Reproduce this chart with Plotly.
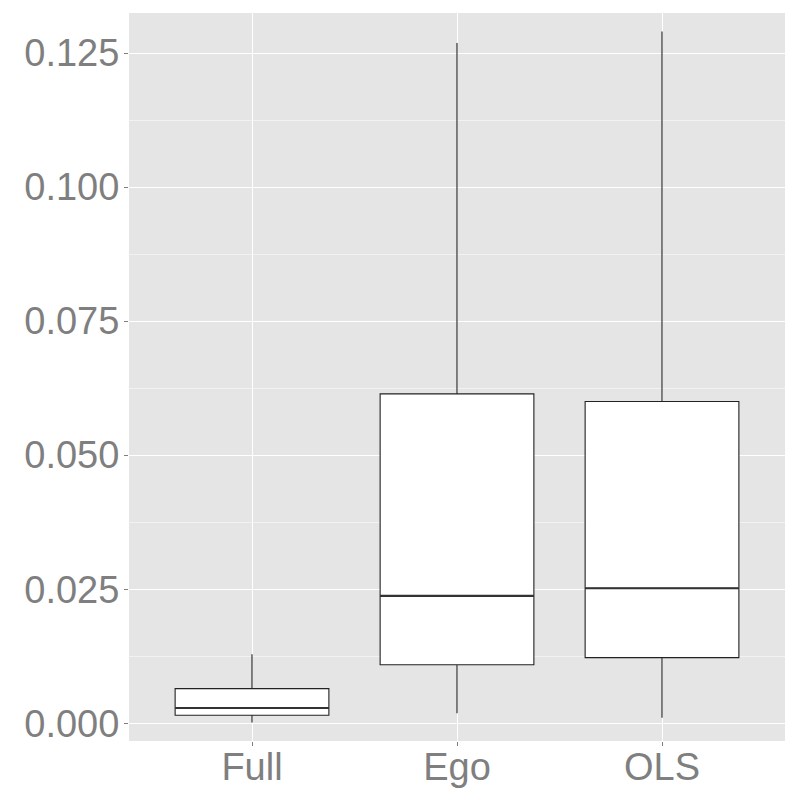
import plotly.graph_objects as go

categories = ["Full", "Ego", "OLS"]
lower_whisker = [0.00015, 0.00187, 0.00104]
q1 = [0.00149, 0.01093, 0.01224]
median = [0.00285, 0.02375, 0.02519]
q3 = [0.00646, 0.06144, 0.06000]
upper_whisker = [0.01287, 0.12687, 0.12903]

y_ticks = [0.0, 0.025, 0.05, 0.075, 0.1, 0.125]
box_width = 0.75
positions = list(range(len(categories)))

fig = go.Figure()
fig.add_trace(go.Box(
    x=positions, q1=q1, median=median, q3=q3,
    lowerfence=lower_whisker, upperfence=upper_whisker,
    fillcolor="white", line=dict(color="#222222", width=1.1),
    whiskerwidth=0, width=box_width, boxpoints=False,
    showlegend=False, hoverinfo="skip",
))
# thicker median lines (ggplot style)
for p, m in zip(positions, median):
    fig.add_trace(go.Scatter(
        x=[p - box_width / 2, p + box_width / 2], y=[m, m], mode="lines",
        line=dict(color="#333333", width=2.2), showlegend=False, hoverinfo="skip",
    ))

fig.update_layout(
    width=800, height=800,
    margin=dict(l=121, r=23, t=5, b=67, autoexpand=False),
    paper_bgcolor="white", plot_bgcolor="#E5E5E5",
    font=dict(family="Liberation Sans, Arial, sans-serif", size=38, color="#7F7F7F"),
    xaxis=dict(
        range=[-0.6, 2.6], tickmode="array", tickvals=positions, ticktext=categories,
        showgrid=True, gridcolor="white", gridwidth=1.4, zeroline=False,
        ticks="outside", ticklen=4, tickcolor="#7F7F7F", tickwidth=1,
        tickfont=dict(size=38, color="#7F7F7F"), showline=False,
        ticklabelstandoff=-12,
    ),
    yaxis=dict(
        range=[-0.0033, 0.13246], tickmode="array", tickvals=y_ticks,
        tickformat=".3f",
        showgrid=True, gridcolor="white", gridwidth=1.4, zeroline=False,
        ticks="outside", ticklen=4, tickcolor="#7F7F7F", tickwidth=1,
        tickfont=dict(size=38, color="#7F7F7F"), showline=False,
        ticklabelstandoff=-3,
        minor=dict(dtick=0.025, tick0=0.0125, showgrid=True, gridcolor="#F2F2F2", gridwidth=0.6, ticks=""),
    ),
)

fig.write_html("out.html")
